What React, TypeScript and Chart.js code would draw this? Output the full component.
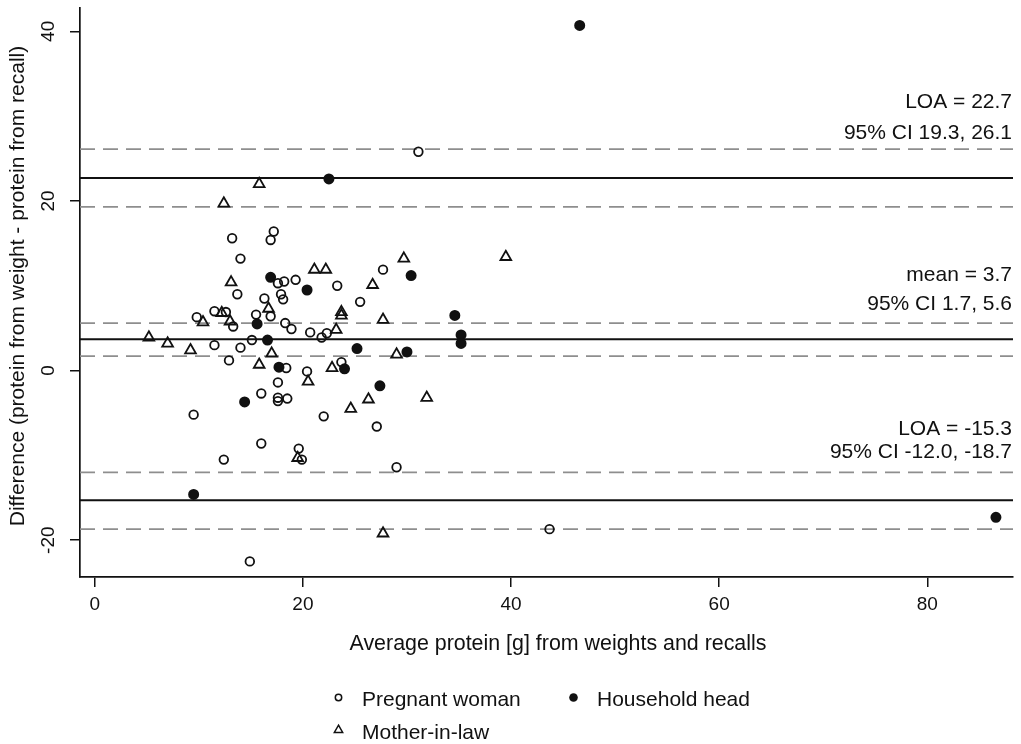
import React, { useEffect, useRef } from 'react';
import { Chart, registerables } from 'chart.js';

Chart.register(...registerables);

// ---------- data ----------
const pregnantX = [14.0, 27.7, 17.6, 18.2, 19.3, 23.3, 13.7, 16.3, 17.9, 18.1, 25.5, 9.8, 11.5, 12.6, 15.5, 16.9, 13.3, 18.3, 18.9, 20.7, 21.8, 22.3, 15.1, 11.5, 14.0, 12.9, 18.4, 23.7, 20.4, 17.6, 16.0, 17.6, 17.6, 18.5, 9.5, 22.0, 27.1, 16.0, 19.6, 19.9, 12.4, 29.0, 14.9, 43.7, 31.1, 13.2, 17.2, 16.9];
const pregnantY = [13.2, 11.9, 10.3, 10.5, 10.7, 10.0, 9.0, 8.5, 9.0, 8.4, 8.1, 6.3, 7.0, 6.9, 6.6, 6.4, 5.2, 5.6, 4.9, 4.5, 3.9, 4.4, 3.6, 3.0, 2.7, 1.2, 0.3, 1.0, -0.1, -1.4, -2.7, -3.2, -3.6, -3.3, -5.2, -5.4, -6.6, -8.6, -9.2, -10.5, -10.5, -11.4, -22.5, -18.7, 25.8, 15.6, 16.4, 15.4];

const headX = [16.9, 20.4, 30.4, 15.6, 16.6, 25.2, 30.0, 17.7, 24.0, 14.4, 27.4, 9.5, 34.6, 35.2, 35.2, 22.5, 46.6, 86.6];
const headY = [11.0, 9.5, 11.2, 5.5, 3.6, 2.6, 2.2, 0.4, 0.2, -3.7, -1.8, -14.6, 6.5, 4.2, 3.2, 22.6, 40.7, -17.3];

const motherX = [29.7, 21.1, 22.2, 13.1, 26.7, 16.7, 23.7, 23.7, 27.7, 10.4, 12.2, 13.0, 23.2, 5.2, 7.0, 9.2, 17.0, 29.0, 15.8, 22.8, 20.5, 26.3, 24.6, 19.5, 27.7, 39.5, 31.9, 15.8, 12.4];
const motherY = [13.2, 11.9, 11.9, 10.4, 10.1, 7.3, 6.9, 6.5, 6.0, 5.7, 6.8, 5.8, 4.8, 3.9, 3.2, 2.4, 2.0, 1.9, 0.7, 0.3, -1.3, -3.4, -4.5, -10.3, -19.2, 13.4, -3.2, 22.0, 19.7];

const limitValues = [22.7, 3.7, -15.3];
const ciValues = [26.1, 19.3, 5.6, 1.7, -12.0, -18.7];

const xTicks = [0, 20, 40, 60, 80];
const yTicks = [-20, 0, 20, 40];

const seriesNames = ['Pregnant woman', 'Household head', 'Mother-in-law'];
const annotationTexts = [
  ['LOA = 22.7', '95% CI 19.3, 26.1'],
  ['mean = 3.7', '95% CI 1.7, 5.6'],
  ['LOA = -15.3', '95% CI -12.0, -18.7'],
];
const annotationAnchors = [26.1, 5.6, -12.0];

const xTitle = 'Average protein [g] from weights and recalls';
const yTitle = 'Difference (protein from weight - protein from recall)';

// ---------- layout / style ----------
const X_MIN = -1.42;
const X_MAX = 88.24;
const Y_MIN = -24.34;
const Y_MAX = 42.75;
const FONT = "'Liberation Sans', Arial, Helvetica, sans-serif";
const INK = '#111111';
const DASH_GRAY = '#8e8e8e';

const annotationOffsets = [
  [-40.8, -10.2],
  [-42.2, -12.9],
  [-37.0, -14.3],
];

const textPlugin = {
  id: 'stataTexts',
  afterDraw(chart: any) {
    const { ctx } = chart;
    const ys = chart.scales.y;
    ctx.save();
    ctx.fillStyle = INK;
    ctx.strokeStyle = INK;

    // y tick labels (rotated)
    ctx.font = `19px ${FONT}`;
    ctx.textAlign = 'center';
    ctx.textBaseline = 'alphabetic';
    yTicks.forEach((v) => {
      const py = ys.getPixelForValue(v);
      ctx.save();
      ctx.translate(54, py);
      ctx.rotate(-Math.PI / 2);
      ctx.fillText(String(v), 0, 0);
      ctx.restore();
    });

    // y title
    ctx.font = `21px ${FONT}`;
    ctx.save();
    ctx.translate(24, 286);
    ctx.rotate(-Math.PI / 2);
    ctx.textAlign = 'center';
    ctx.fillText(yTitle, 0, 0);
    ctx.restore();

    // x title
    ctx.font = `21.4px ${FONT}`;
    ctx.textAlign = 'center';
    ctx.fillText(xTitle, 558, 650);

    // annotations
    ctx.font = `21px ${FONT}`;
    ctx.textAlign = 'right';
    const rightX = chart.chartArea.right - 1;
    annotationTexts.forEach((lines, i) => {
      const base = ys.getPixelForValue(annotationAnchors[i]);
      lines.forEach((t, j) => {
        ctx.fillText(t, rightX, base + annotationOffsets[i][j]);
      });
    });

    // legend
    ctx.font = `21px ${FONT}`;
    ctx.textAlign = 'left';
    ctx.lineWidth = 1.5;
    ctx.beginPath();
    ctx.arc(338.5, 697.5, 3.2, 0, Math.PI * 2);
    ctx.stroke();
    ctx.fillText(seriesNames[0], 362, 705.5);
    ctx.beginPath();
    ctx.arc(573.5, 697.5, 4.3, 0, Math.PI * 2);
    ctx.fill();
    ctx.fillText(seriesNames[1], 597, 705.5);
    const tx = 338.5, ty = 730, tr = 4.8;
    ctx.beginPath();
    ctx.moveTo(tx, ty - tr);
    ctx.lineTo(tx + tr * 0.866, ty + tr * 0.5);
    ctx.lineTo(tx - tr * 0.866, ty + tr * 0.5);
    ctx.closePath();
    ctx.stroke();
    ctx.fillText(seriesNames[2], 362, 738.5);

    ctx.restore();
  },
};

export default function App() {
  const canvasRef = useRef<HTMLCanvasElement>(null);

  useEffect(() => {
    const canvas = canvasRef.current;
    if (!canvas) return;

    const toPts = (xs: number[], ysArr: number[]) => xs.map((x, i) => ({ x, y: ysArr[i] }));
    const hline = (v: number) => [{ x: X_MIN, y: v }, { x: X_MAX, y: v }];

    const pointCommon = {
      showLine: false,
      pointBorderWidth: 1.8,
      pointHoverRadius: 0,
    };

    const datasets: any[] = [
      {
        ...pointCommon,
        label: seriesNames[0],
        data: toPts(pregnantX, pregnantY),
        pointStyle: 'circle',
        pointRadius: 4.3,
        pointBorderColor: INK,
        pointBackgroundColor: 'rgba(0,0,0,0)',
        order: 0,
      },
      {
        ...pointCommon,
        label: seriesNames[1],
        data: toPts(headX, headY),
        pointStyle: 'circle',
        pointRadius: 4.6,
        pointBorderColor: INK,
        pointBackgroundColor: INK,
        order: 0,
      },
      {
        ...pointCommon,
        label: seriesNames[2],
        data: toPts(motherX, motherY),
        pointStyle: 'triangle',
        pointRadius: 6.2,
        pointBorderColor: INK,
        pointBackgroundColor: 'rgba(0,0,0,0)',
        order: 0,
      },
      ...limitValues.map((v) => ({
        label: 'limit ' + v,
        data: hline(v),
        showLine: true,
        pointRadius: 0,
        borderColor: INK,
        borderWidth: 2,
        order: 2,
      })),
      ...ciValues.map((v) => ({
        label: 'ci ' + v,
        data: hline(v),
        showLine: true,
        pointRadius: 0,
        borderColor: DASH_GRAY,
        borderWidth: 1.8,
        borderDash: [15, 8],
        order: 3,
      })),
    ];

    const chart = new Chart(canvas, {
      type: 'scatter',
      data: { datasets },
      options: {
        animation: false,
        responsive: false,
        devicePixelRatio: 1,
        layout: { padding: { top: 7, right: 5, left: 0, bottom: 0 } },
        plugins: {
          legend: { display: false },
          tooltip: { enabled: false },
          title: { display: false },
        },
        scales: {
          x: {
            type: 'linear',
            min: X_MIN,
            max: X_MAX,
            afterBuildTicks: (scale: any) => {
              scale.ticks = xTicks.map((v) => ({ value: v }));
            },
            afterFit: (scale: any) => {
              scale.height = 167;
            },
            grid: {
              display: true,
              drawOnChartArea: false,
              drawTicks: true,
              tickLength: 10,
              color: INK,
              lineWidth: 1.5,
            },
            border: { display: true, color: INK, width: 1.7 },
            ticks: {
              color: INK,
              font: { family: FONT, size: 19 },
              padding: 6,
              maxRotation: 0,
              minRotation: 0,
              autoSkip: false,
            },
          },
          y: {
            type: 'linear',
            min: Y_MIN,
            max: Y_MAX,
            afterBuildTicks: (scale: any) => {
              scale.ticks = yTicks.map((v) => ({ value: v }));
            },
            afterFit: (scale: any) => {
              scale.width = 80;
            },
            grid: {
              display: true,
              drawOnChartArea: false,
              drawTicks: true,
              tickLength: 10,
              color: INK,
              lineWidth: 1.5,
            },
            border: { display: true, color: INK, width: 1.7 },
            ticks: { display: false },
          },
        },
      },
      plugins: [textPlugin],
    });

    return () => {
      chart.destroy();
    };
  }, []);

  return (
    <div style={{ position: 'absolute', left: 0, top: 0, width: 1021, height: 744, background: '#fff' }}>
      <canvas ref={canvasRef} width={1021} height={744} style={{ display: 'block' }} />
    </div>
  );
}
